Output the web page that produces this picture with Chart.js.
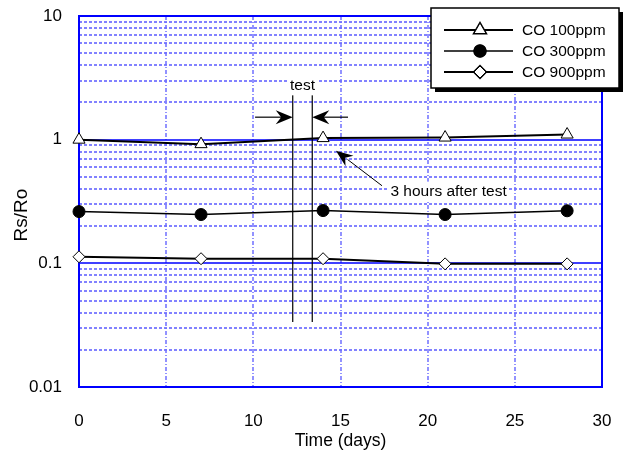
<!DOCTYPE html>
<html>
<head>
<meta charset="utf-8">
<script src="https://cdn.jsdelivr.net/npm/chart.js@4/dist/chart.umd.min.js"></script>
<style>
  html, body { margin: 0; padding: 0; background: #fff; }
  canvas { display: block; }
</style>
</head>
<body>
<canvas id="myChart" width="628" height="456"></canvas>
<script>
// data
const days = [0, 7, 14, 21, 28];
const co100 = [1.0, 0.92, 1.03, 1.04, 1.1];
const co300 = [0.262, 0.248, 0.267, 0.248, 0.266];
const co900 = [0.113, 0.109, 0.109, 0.099, 0.099];
const seriesNames = ["CO 100ppm", "CO 300ppm", "CO 900ppm"];
const xTicks = [0, 5, 10, 15, 20, 25, 30];
const yDecades = [0.01, 0.1, 1, 10];
const yTitle = "Rs/Ro";

// annotation positions in data units
const testLines = [12.26, 13.38];
const testLineRange = [0.0336, 2.31];
const testArrowY = 1.52;
const testArrowFrom = [10.1, 15.43];
const testLabel = { x: 12.82, y: 2.75, text: "test" };
const afterArrow = { from: [17.38, 0.424], to: [14.74, 0.815] };
const afterLabel = { x: 21.2, y: 0.38, text: "3 hours after test" };

const FONT = "'Liberation Sans', Arial, sans-serif";
const BLUE = "#0000ff";

const minorTicks = [];
for (let d = 0.01; d < 10; d *= 10) {
  for (let m = 1; m < 10; m++) minorTicks.push(+(d * m).toPrecision(3));
}
minorTicks.push(10);

function arrowHead(ctx, x0, y0, x1, y1, len, half) {
  const a = Math.atan2(y1 - y0, x1 - x0);
  ctx.save();
  ctx.translate(x1, y1);
  ctx.rotate(a);
  ctx.beginPath();
  ctx.moveTo(0, 0);
  ctx.lineTo(-len, -half);
  ctx.lineTo(-len * 0.68, 0);
  ctx.lineTo(-len, half);
  ctx.closePath();
  ctx.fill();
  ctx.restore();
}

function labelBox(ctx, text, x, y) {
  const w = ctx.measureText(text).width;
  ctx.fillStyle = "#fff";
  ctx.fillRect(x - w / 2 - 2, y - 10, w + 4, 20);
  ctx.fillStyle = "#000";
  ctx.fillText(text, x, y);
}

const gridPlugin = {
  id: "grid",
  beforeDatasetsDraw(chart) {
    const { ctx, chartArea: a, scales } = chart;
    ctx.save();
    // minor log lines: light blue dashes
    ctx.lineWidth = 1.5;
    ctx.strokeStyle = "#5a5aff";
    ctx.setLineDash([3, 2]);
    minorTicks.forEach((v) => {
      if (yDecades.includes(v)) return;
      const y = Math.round(scales.y.getPixelForValue(v));
      ctx.beginPath();
      ctx.moveTo(a.left, y);
      ctx.lineTo(a.right, y);
      ctx.stroke();
    });
    ctx.strokeStyle = "#6f6fff";
    ctx.setLineDash([4, 2, 1, 2]);
    xTicks.forEach((v) => {
      if (v === xTicks[0] || v === xTicks[xTicks.length - 1]) return;
      const x = Math.round(scales.x.getPixelForValue(v));
      ctx.beginPath();
      ctx.moveTo(x, a.top);
      ctx.lineTo(x, a.bottom);
      ctx.stroke();
    });
    ctx.setLineDash([]);
    ctx.strokeStyle = BLUE;
    ctx.lineWidth = 1.5;
    yDecades.forEach((v) => {
      const y = Math.round(scales.y.getPixelForValue(v));
      ctx.beginPath();
      ctx.moveTo(a.left, y);
      ctx.lineTo(a.right, y);
      ctx.stroke();
    });
    ctx.lineWidth = 2;
    ctx.strokeRect(a.left, a.top, a.right - a.left, a.bottom - a.top);

    // annotations
    const sx = scales.x, sy = scales.y;
    ctx.strokeStyle = "#000";
    ctx.fillStyle = "#000";
    ctx.lineWidth = 1.2;
    testLines.forEach((d) => {
      const x = sx.getPixelForValue(d);
      ctx.beginPath();
      ctx.moveTo(x, sy.getPixelForValue(testLineRange[0]));
      ctx.lineTo(x, sy.getPixelForValue(testLineRange[1]));
      ctx.stroke();
    });
    const ay = sy.getPixelForValue(testArrowY);
    testArrowFrom.forEach((d, i) => {
      const x0 = sx.getPixelForValue(d);
      const x1 = sx.getPixelForValue(testLines[i]);
      ctx.beginPath();
      ctx.moveTo(x0, ay);
      ctx.lineTo(x1 + (i === 0 ? -10 : 10), ay);
      ctx.stroke();
      arrowHead(ctx, x0, ay, x1, ay, 17, 7);
    });
    const p0 = [sx.getPixelForValue(afterArrow.from[0]), sy.getPixelForValue(afterArrow.from[1])];
    const p1 = [sx.getPixelForValue(afterArrow.to[0]), sy.getPixelForValue(afterArrow.to[1])];
    ctx.lineWidth = 1;
    ctx.beginPath();
    ctx.moveTo(p0[0], p0[1]);
    ctx.lineTo(p1[0] + (p0[0] - p1[0]) * 0.25, p1[1] + (p0[1] - p1[1]) * 0.25);
    ctx.stroke();
    arrowHead(ctx, p0[0], p0[1], p1[0], p1[1], 17, 6.5);

    ctx.font = "15.5px " + FONT;
    ctx.textAlign = "center";
    ctx.textBaseline = "middle";
    labelBox(ctx, testLabel.text, sx.getPixelForValue(testLabel.x), sy.getPixelForValue(testLabel.y));
    labelBox(ctx, afterLabel.text, sx.getPixelForValue(afterLabel.x), sy.getPixelForValue(afterLabel.y));
    ctx.restore();
  },
  afterDraw(chart) {
    const { ctx } = chart;
    ctx.save();
    // y axis title, sits a bit below the axis middle in the original
    ctx.font = "19px " + FONT;
    ctx.fillStyle = "#000";
    ctx.textAlign = "center";
    ctx.textBaseline = "middle";
    ctx.translate(22, 215);
    ctx.rotate(-Math.PI / 2);
    ctx.fillText(yTitle, 0, 0);
    ctx.restore();

    // legend box with drop shadow
    const bx = 431, by = 8, bw = 188, bh = 80;
    ctx.save();
    ctx.fillStyle = "#000";
    ctx.fillRect(bx + 4, by + 4, bw, bh);
    ctx.fillStyle = "#fff";
    ctx.fillRect(bx, by, bw, bh);
    ctx.strokeStyle = "#000";
    ctx.lineWidth = 1.5;
    ctx.strokeRect(bx, by, bw, bh);
    ctx.font = "15.5px " + FONT;
    ctx.textBaseline = "middle";
    ctx.textAlign = "left";
    chart.data.datasets.forEach((ds, i) => {
      const y = by + 22 + i * 21;
      ctx.strokeStyle = ds.borderColor;
      ctx.lineWidth = ds.borderWidth;
      ctx.beginPath();
      ctx.moveTo(bx + 13, y);
      ctx.lineTo(bx + 82, y);
      ctx.stroke();
      Chart.helpers.drawPoint(ctx, {
        pointStyle: ds.pointStyle,
        radius: ds.pointRadius,
        borderWidth: 1,
        rotation: 0,
      }, bx + 49, y);
      ctx.fillStyle = ds.pointBackgroundColor;
      ctx.strokeStyle = "#000";
      ctx.lineWidth = 1;
      ctx.fill();
      ctx.stroke();
      ctx.fillStyle = "#000";
      ctx.fillText(ds.label, bx + 91, y + 1);
    });
    ctx.restore();
  },
};

const makeSet = (label, values, style, fill, width) => ({
  label,
  data: days.map((d, i) => ({ x: d, y: values[i] })),
  borderColor: "#000",
  borderWidth: width,
  pointStyle: style,
  pointRadius: style === "triangle" ? 7 : 6,
  pointBackgroundColor: fill,
  pointBorderColor: "#000",
  pointBorderWidth: 1,
  tension: 0,
  fill: false,
  clip: false,
});

new Chart(document.getElementById("myChart"), {
  type: "line",
  data: {
    datasets: [
      makeSet(seriesNames[0], co100, "triangle", "#fff", 2),
      makeSet(seriesNames[1], co300, "circle", "#000", 1.5),
      makeSet(seriesNames[2], co900, "rectRot", "#fff", 2),
    ],
  },
  options: {
    responsive: false,
    animation: false,
    events: [],
    layout: { padding: { top: 16, right: 26, bottom: 0, left: 0 } },
    plugins: { legend: { display: false }, tooltip: { enabled: false } },
    scales: {
      x: {
        type: "linear",
        min: 0,
        max: 30,
        afterBuildTicks: (s) => { s.ticks = xTicks.map((v) => ({ value: v })); },
        afterFit: (s) => { s.height = 69; s.paddingLeft = 0; s.paddingRight = 0; },
        grid: { display: false, drawTicks: false },
        border: { display: false },
        ticks: { color: "#000", font: { family: FONT, size: 17 }, padding: 24, maxRotation: 0 },
        title: { display: true, text: "Time (days)", color: "#000", font: { family: FONT, size: 17.5 }, padding: { top: 0, bottom: 4 } },
      },
      y: {
        type: "logarithmic",
        min: 0.01,
        max: 10,
        afterBuildTicks: (s) => { s.ticks = yDecades.map((v) => ({ value: v })); },
        afterFit: (s) => { s.width = 79; s.paddingTop = 0; s.paddingBottom = 0; },
        grid: { display: false, drawTicks: false },
        border: { display: false },
        ticks: {
          color: "#000",
          font: { family: FONT, size: 17 },
          padding: 17,
          callback: (v) => String(v),
        },
      },
    },
  },
  plugins: [gridPlugin],
});
</script>
</body>
</html>
